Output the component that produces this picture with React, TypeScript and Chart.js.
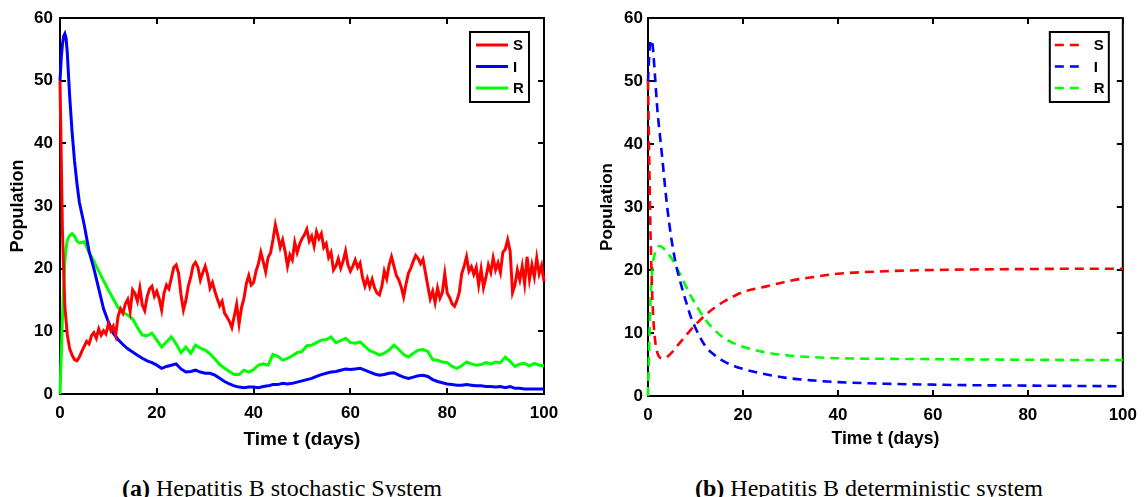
import React, { useEffect, useRef } from "react";
import { Chart, registerables } from "chart.js";

Chart.register(...registerables);

// ---------------- Data ----------------
// (a) stochastic system
const tStochS = [
  0, 0.5, 1, 1.5, 2, 2.5, 3, 3.5, 4, 4.5, 5, 5.5, 6, 6.5, 7, 7.5, 8, 8.5, 9, 9.5,
  10, 10.5, 11, 11.5, 12, 12.5, 13, 13.5, 14, 14.5, 15, 15.5, 16, 16.5, 17, 17.5, 18, 18.5, 19, 19.5,
  20, 20.5, 21, 21.5, 22, 22.5, 23, 23.5, 24, 24.5, 25, 25.5, 26, 26.5, 27, 27.5, 28, 28.5, 29, 29.5,
  30, 30.5, 31, 31.5, 32, 32.5, 33, 33.5, 34, 34.5, 35, 35.5, 36, 36.5, 37, 37.5, 38, 38.5, 39, 39.5,
  40, 40.5, 41, 41.5, 42, 42.5, 43, 43.5, 44, 44.5, 45, 45.5, 46, 46.5, 47, 47.5, 48, 48.5, 49, 49.5,
  50, 50.5, 51, 51.5, 52, 52.5, 53, 53.5, 54, 54.5, 55, 55.5, 56, 56.5, 57, 57.5, 58, 58.5, 59, 59.5,
  60, 60.5, 61, 61.5, 62, 62.5, 63, 63.5, 64, 64.5, 65, 65.5, 66, 66.5, 67, 67.5, 68, 68.5, 69, 69.5,
  70, 70.5, 71, 71.5, 72, 72.5, 73, 73.5, 74, 74.5, 75, 75.5, 76, 76.5, 77, 77.5, 78, 78.5, 79, 79.5,
  80, 80.5, 81, 81.5, 82, 82.5, 83, 83.5, 84, 84.5, 85, 85.5, 86, 86.5, 87, 87.5, 88, 88.5, 89, 89.5,
  90, 90.5, 91, 91.5, 92, 92.5, 93, 93.5, 94, 94.5, 95, 95.5, 96, 96.5, 97, 97.5, 98, 98.5, 99, 99.5,
  100,
];
const stochS = [
  50, 26, 14, 9.5, 7.2, 6.2, 5.5, 5.3, 5.9, 6.8, 7.6, 8.4, 8.0, 9.3, 9.8, 8.9, 10.4, 9.4, 10.1, 9.6,
  11.2, 10.1, 10.8, 9.4, 12.4, 13.6, 12.9, 14.4, 15.1, 13.2, 16.6, 16.0, 14.8, 16.9, 14.2, 13.3, 15.5, 16.8, 17.2, 15.6,
  16.4, 15.2, 13.4, 16.1, 17.4, 16.8, 18.5, 20.2, 20.6, 19.3, 15.8, 13.4, 14.9, 17.2, 18.6, 20.5, 21.0, 20.2, 18.2, 19.4,
  20.4, 19.0, 16.9, 17.8, 16.4, 15.2, 14.1, 14.8, 12.9, 12.3, 11.6, 10.6, 12.4, 14.3, 11.2, 13.8, 15.2, 17.6, 18.9, 17.4,
  17.8, 19.6, 20.8, 22.6, 21.1, 19.5, 21.8, 22.5, 24.6, 27.0, 25.3, 23.4, 24.6, 22.8, 20.4, 22.2, 21.4, 24.2, 22.6, 23.9,
  24.8, 25.4, 26.3, 24.4, 25.2, 23.6, 25.9, 24.8, 25.6, 23.4, 24.0, 21.8, 22.6, 19.8, 20.4, 21.6, 20.1, 21.2, 22.8, 20.6,
  19.6, 20.4, 21.4, 20.2, 20.9, 18.6, 17.2, 18.4, 17.1, 18.3, 16.9, 16.1, 15.8, 17.2, 19.6, 18.4, 20.6, 21.9, 20.4, 18.9,
  18.2, 17.1, 15.5, 17.6, 19.3, 20.1, 21.2, 22.1, 21.6, 20.8, 21.5, 19.4, 17.2, 15.2, 16.4, 14.6, 16.9, 15.3, 16.2, 19.2,
  16.1, 15.4, 14.4, 14.0, 14.9, 16.2, 19.2, 20.4, 21.9, 19.6, 20.3, 19.1, 20.2, 17.4, 19.9, 17.0, 18.6, 20.6, 19.4, 21.7,
  19.8, 20.9, 19.4, 22.6, 23.1, 24.6, 22.8, 16.2, 17.4, 19.8, 18.2, 20.4, 17.6, 21.9, 18.3, 20.6, 18.7, 21.7, 19.2, 20.5,
  18.0,
];
const tStochIR = [
  0, 0.25, 0.5, 0.75, 1, 1.25, 1.5, 2, 2.5, 3, 3.5, 4, 5, 6, 7, 8, 9, 10, 11, 12, 13, 14, 15, 16, 17, 18, 19,
  20, 21, 22, 23, 24, 25, 26, 27, 28, 29, 30, 31, 32, 33, 34, 35, 36, 37, 38, 39,
  40, 41, 42, 43, 44, 45, 46, 47, 48, 49, 50, 51, 52, 53, 54, 55, 56, 57, 58, 59,
  60, 61, 62, 63, 64, 65, 66, 67, 68, 69, 70, 71, 72, 73, 74, 75, 76, 77, 78, 79,
  80, 81, 82, 83, 84, 85, 86, 87, 88, 89, 90, 91, 92, 93, 94, 95, 96, 97, 98, 99, 100,
];
const stochI = [
  50, 53.5, 55.8, 57.1, 57.5, 56.8, 54.5, 47.5, 41.8, 37.2, 33.6, 30.6, 27, 22.8, 20, 16.8, 13.6, 11.5, 9.7, 8.7, 7.9, 7.2, 6.7, 6.2, 5.7, 5.3, 5.0,
  4.6, 4.1, 4.4, 4.6, 4.8, 4.0, 3.5, 3.6, 3.8, 3.5, 3.3, 3.3, 3.0, 2.5, 2.0, 1.6, 1.3, 1.1, 1.0, 1.1,
  1.1, 1.0, 1.2, 1.3, 1.5, 1.5, 1.7, 1.6, 1.7, 1.9, 2.1, 2.3, 2.5, 2.8, 3.1, 3.3, 3.5, 3.6, 3.8, 4.0,
  3.9, 4.0, 4.1, 3.8, 3.5, 3.2, 3.0, 3.1, 3.3, 3.4, 3.0, 2.7, 2.5, 2.7, 2.9, 3.0, 2.8, 2.3, 2.0, 1.8,
  1.6, 1.5, 1.4, 1.4, 1.5, 1.4, 1.3, 1.3, 1.2, 1.2, 1.1, 1.2, 1.0, 1.2, 0.9, 0.9, 0.8, 0.8, 0.8, 0.8, 0.8,
];
const stochR = [
  0, 6, 12, 17, 21, 23.2, 24.5, 25.3, 25.6, 25.2, 24.4, 24.1, 24.3, 22.6, 21.2, 19.6, 18.1, 16.6, 15.2, 13.8, 13.0, 12.6, 12.0, 10.6, 9.4, 9.3, 9.7,
  8.6, 7.5, 8.3, 9.1, 8.0, 6.6, 7.5, 6.5, 7.8, 7.3, 7.0, 6.4, 5.6, 4.7, 4.1, 3.6, 3.1, 3.1, 3.8, 3.5,
  3.9, 4.6, 4.8, 4.6, 6.3, 6.0, 5.4, 5.7, 6.1, 6.6, 6.8, 7.7, 7.8, 8.2, 8.6, 8.7, 9.1, 8.2, 8.5, 8.9,
  8.2, 8.1, 8.3, 7.6, 6.9, 6.6, 6.2, 6.5, 7.0, 7.8, 7.1, 6.3, 5.9, 6.5, 7.0, 7.1, 6.8, 5.5, 5.4, 5.1,
  5.0, 4.4, 4.1, 4.5, 5.1, 4.8, 4.6, 4.7, 5.0, 4.8, 5.1, 5.0, 5.9, 5.2, 4.4, 4.8, 4.9, 4.5, 4.9, 4.6, 4.5,
];

// (b) deterministic system
const tDet = [
  0, 0.25, 0.5, 0.75, 1, 1.5, 2, 2.5, 3, 4, 5, 6, 7, 8, 9, 10, 12, 14, 16, 18, 20, 25, 30, 35, 40, 50, 60, 70, 80, 90, 100,
];
const detS = [
  50, 38, 27, 19.5, 14, 8.8, 6.8, 6.1, 6.0, 6.2, 6.9, 7.8, 8.7, 9.6, 10.5, 11.3, 12.8, 14.0, 15.0, 15.8, 16.5, 17.4, 18.3, 18.9, 19.4, 19.8, 20.0, 20.1, 20.15, 20.2, 20.2,
];
const detI = [
  50, 54, 56.2, 56.5, 55.5, 50.5, 45.2, 41.5, 37.8, 30.3, 24.6, 20.5, 17.6, 15.0, 12.6, 10.8, 8.0, 6.5, 5.5, 4.8, 4.3, 3.4, 2.8, 2.45, 2.2, 1.95, 1.8, 1.7, 1.65, 1.6, 1.55,
];
const detR = [
  0, 8, 14.5, 18.5, 20.8, 22.8, 23.6, 23.8, 23.6, 22.8, 21.8, 20.4, 19.0, 17.4, 15.9, 14.6, 12.2, 10.5, 9.2, 8.4, 7.8, 6.9, 6.4, 6.15, 6.0, 5.9, 5.85, 5.8, 5.75, 5.72, 5.7,
];

const seriesLabels = ["S", "I", "R"];
const seriesColors = ["#ff0000", "#0000ff", "#00ff00"];
const xTicksMax = 100;
const yTicksMax = 60;

const FONT = "'Liberation Sans', Arial, Helvetica, sans-serif";

function pts(t: number[], v: number[]) {
  return t.map((x, i) => ({ x, y: v[i] }));
}

const boxPlugin = {
  id: "matlabBox",
  beforeDatasetsDraw(chart: any) {
    const { ctx, chartArea: a, scales } = chart;
    const xs = scales.x;
    const ys = scales.y;
    ctx.save();
    ctx.strokeStyle = "#000";
    ctx.lineWidth = 2;
    ctx.strokeRect(a.left, a.top, a.right - a.left, a.bottom - a.top);
    ctx.beginPath();
    const L = 6;
    xs.ticks.forEach((t: any) => {
      const px = Math.round(xs.getPixelForValue(t.value));
      ctx.moveTo(px, a.bottom);
      ctx.lineTo(px, a.bottom - L);
      ctx.moveTo(px, a.top);
      ctx.lineTo(px, a.top + L);
    });
    ys.ticks.forEach((t: any) => {
      const py = Math.round(ys.getPixelForValue(t.value));
      ctx.moveTo(a.left, py);
      ctx.lineTo(a.left + L, py);
      ctx.moveTo(a.right, py);
      ctx.lineTo(a.right - L, py);
    });
    ctx.stroke();
    ctx.restore();
  },
};

const legendPlugin = {
  id: "sirLegend",
  afterDraw(chart: any, _args: any, opts: any) {
    const { ctx, chartArea: a } = chart;
    const left = a.right - opts.rightOffset - opts.width;
    const top = a.top + opts.topOffset;
    ctx.save();
    ctx.fillStyle = "#fff";
    ctx.fillRect(left, top, opts.width, opts.height);
    ctx.strokeStyle = "#000";
    ctx.lineWidth = 2;
    ctx.strokeRect(left, top, opts.width, opts.height);
    chart.data.datasets.forEach((ds: any, i: number) => {
      const y = top + opts.rowStart + i * opts.rowGap;
      ctx.beginPath();
      ctx.strokeStyle = ds.borderColor;
      ctx.lineWidth = ds.borderWidth;
      ctx.setLineDash(ds.borderDash || []);
      ctx.moveTo(left + opts.sampleX, y);
      ctx.lineTo(left + opts.sampleX + opts.sampleLen, y);
      ctx.stroke();
      ctx.setLineDash([]);
      ctx.fillStyle = "#000";
      ctx.font = "bold 15px " + FONT;
      ctx.textBaseline = "middle";
      ctx.textAlign = "left";
      ctx.fillText(ds.label, left + opts.labelX, y + 1);
    });
    ctx.restore();
  },
};

function makeConfig(p: any) {
  const datasets = p.series.map((s: any, i: number) => ({
    label: seriesLabels[i],
    data: pts(s.t, s.v),
    borderColor: seriesColors[i],
    backgroundColor: seriesColors[i],
    borderWidth: p.lineWidth,
    borderDash: p.dash,
    pointRadius: 0,
    tension: 0,
    cubicInterpolationMode: p.smooth ? "monotone" : "default",
    clip: false,
    fill: false,
  }));
  return {
    type: "line",
    data: { datasets },
    plugins: [boxPlugin, legendPlugin],
    options: {
      animation: false,
      responsive: false,
      events: [],
      layout: { padding: { top: p.padTop, right: p.padRight, left: 0, bottom: 0 } },
      plugins: {
        legend: { display: false },
        tooltip: { enabled: false },
        sirLegend: p.legend,
      },
      scales: {
        x: {
          type: "linear",
          min: 0,
          max: xTicksMax,
          grid: { display: false, drawTicks: false },
          border: { display: false },
          ticks: {
            stepSize: 20,
            padding: p.xTickPad,
            color: "#000",
            font: { family: FONT, size: p.tickSize, weight: "bold" },
            maxRotation: 0,
          },
          title: {
            display: true,
            text: "Time t (days)",
            color: "#000",
            font: { family: FONT, size: p.xTitleSize, weight: "bold" },
            padding: { top: 0, bottom: p.xTitlePad },
          },
          afterFit: (sc: any) => {
            sc.height = p.xHeight;
          },
        },
        y: {
          type: "linear",
          min: 0,
          max: yTicksMax,
          grid: { display: false, drawTicks: false },
          border: { display: false },
          ticks: {
            stepSize: 10,
            padding: p.yTickPad,
            color: "#000",
            font: { family: FONT, size: p.tickSize, weight: "bold" },
          },
          title: {
            display: true,
            text: "Population",
            color: "#000",
            font: { family: FONT, size: p.yTitleSize, weight: "bold" },
            padding: { top: p.yTitlePad, bottom: 0 },
          },
          afterFit: (sc: any) => {
            sc.width = p.yWidth;
          },
        },
      },
    },
  };
}

function Panel({ cfg, left }: { cfg: any; left: number }) {
  const ref = useRef<HTMLCanvasElement | null>(null);
  useEffect(() => {
    if (!ref.current) return;
    const chart = new Chart(ref.current, makeConfig(cfg) as any);
    return () => chart.destroy();
  }, []);
  return (
    <canvas
      ref={ref}
      width={573}
      height={460}
      style={{ position: "absolute", left, top: 0, width: 573, height: 460, display: "block" }}
    />
  );
}

const cfgA = {
  series: [
    { t: tStochS, v: stochS },
    { t: tStochIR, v: stochI },
    { t: tStochIR, v: stochR },
  ],
  lineWidth: 3,
  dash: [],
  smooth: false,
  padTop: 18,
  padRight: 29,
  yWidth: 60,
  xHeight: 66,
  tickSize: 17,
  xTitleSize: 19,
  yTitleSize: 18,
  xTickPad: 9,
  yTickPad: 7,
  xTitlePad: 9,
  yTitlePad: 7,
  legend: { rightOffset: 15, topOffset: 14, width: 59, height: 70, sampleX: 6, sampleLen: 32, labelX: 43, rowStart: 13, rowGap: 21.5 },
};

const cfgB = {
  series: [
    { t: tDet, v: detS },
    { t: tDet, v: detI },
    { t: tDet, v: detR },
  ],
  lineWidth: 2.6,
  dash: [9, 6],
  smooth: true,
  padTop: 18,
  padRight: 15,
  yWidth: 75,
  xHeight: 64,
  tickSize: 17,
  xTitleSize: 17.5,
  yTitleSize: 17,
  xTickPad: 9,
  yTickPad: 5,
  xTitlePad: 10,
  yTitlePad: 24,
  legend: { rightOffset: 14, topOffset: 14, width: 59, height: 70, sampleX: 5, sampleLen: 27, labelX: 44, rowStart: 13, rowGap: 21.5 },
};

const captionStyle: React.CSSProperties = {
  position: "absolute",
  top: 476,
  fontFamily: "'Liberation Serif', 'Times New Roman', serif",
  fontSize: 24,
  lineHeight: "24px",
  whiteSpace: "nowrap",
  color: "#000",
};

export default function App() {
  return (
    <div style={{ position: "fixed", left: 0, top: 0, width: 1146, height: 497, background: "#fff", overflow: "hidden" }}>
      <Panel cfg={cfgA} left={0} />
      <Panel cfg={cfgB} left={573} />
      <div style={{ ...captionStyle, left: 122 }}>
        <b>(a)</b> Hepatitis B stochastic System
      </div>
      <div style={{ ...captionStyle, left: 695 }}>
        <b>(b)</b> Hepatitis B deterministic system
      </div>
    </div>
  );
}
